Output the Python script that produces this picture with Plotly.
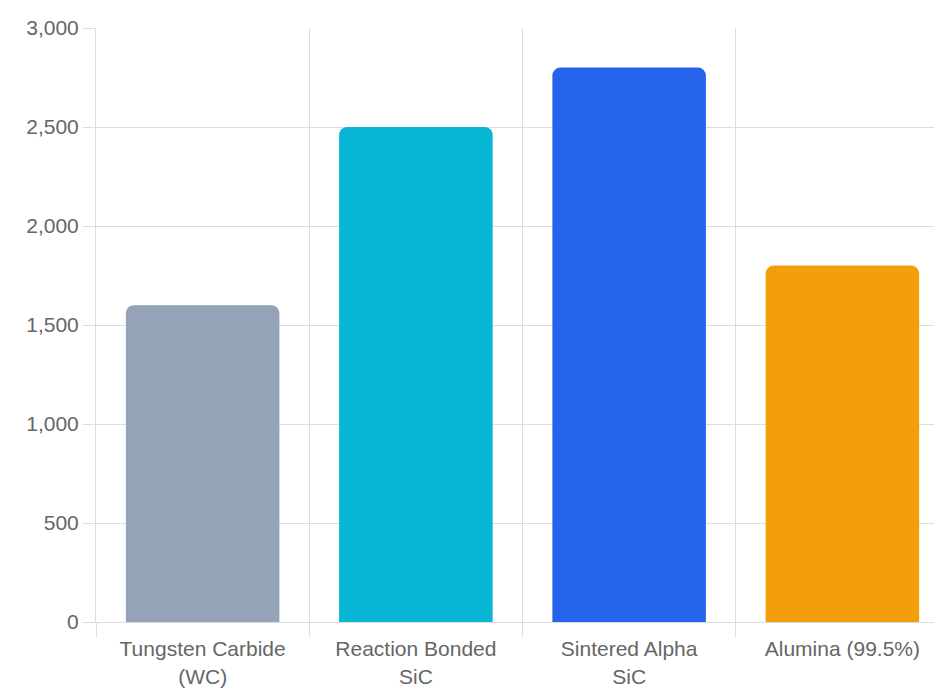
import plotly.graph_objects as go

categories = ["Tungsten Carbide<br>(WC)", "Reaction Bonded<br>SiC", "Sintered Alpha<br>SiC", "Alumina (99.5%)"]
values = [1600, 2500, 2800, 1800]
colors = ["#94A3B8", "#06B6D4", "#2563EB", "#F59E0B"]

fig = go.Figure(go.Bar(x=categories, y=values, marker=dict(color=colors, cornerradius=8, line=dict(width=0)), width=0.72))
fig.update_layout(
    width=942, height=700, margin=dict(l=88, r=1, t=20, b=86, autoexpand=False),
    plot_bgcolor="white", paper_bgcolor="white", showlegend=False,
    font=dict(family="Liberation Sans, Arial, sans-serif", size=21, color="#666"),
)
fig.update_xaxes(tickson="boundaries", showgrid=True, gridcolor="#ddd", ticks="outside", ticklen=14,
                 tickcolor="#ddd", showline=True, linecolor="#ddd", automargin=False, ticklabelstandoff=8)
fig.update_yaxes(range=[0, 3000], dtick=500, tickformat=",", showgrid=True, gridcolor="#ddd", ticks="outside",
                 ticklen=12, tickcolor="#ddd", showline=True, linecolor="#ddd", zeroline=False, automargin=False)
fig.write_html("out.html")
